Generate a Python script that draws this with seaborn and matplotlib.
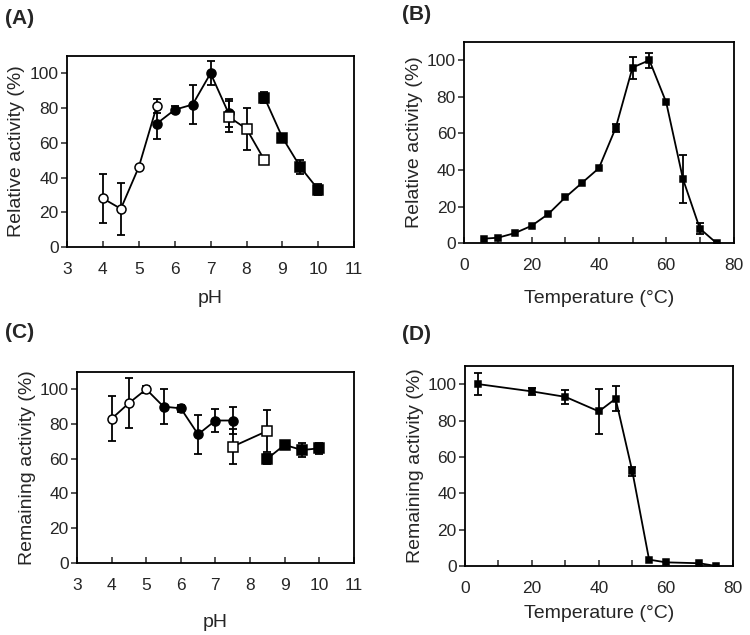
"""Enzyme pH / temperature profiles, four panels (A)-(D)."""

import numpy as np
import matplotlib
matplotlib.use("Agg")
import matplotlib.pyplot as plt
from matplotlib.ticker import MultipleLocator
import seaborn as sns

# ---- (A) pH optimum -------------------------------------------------------
a_oc_ph = [4.0, 4.5, 5.0, 5.5]
a_oc_val = [28, 22, 46, 81]
a_oc_err = [14, 15, 0, 4]

a_fc_ph = [5.5, 6.0, 6.5, 7.0, 7.5]
a_fc_val = [71, 79, 82, 100, 77]
a_fc_err = [9, 2, 11, 7, 8]

a_os_ph = [7.5, 8.0, 8.5]
a_os_val = [75, 68, 50]
a_os_err = [9, 12, 0]

a_fs_ph = [8.5, 9.0, 9.5, 10.0]
a_fs_val = [86, 63, 46, 33]
a_fs_err = [3, 2, 4, 3]

# ---- (B) temperature optimum ----------------------------------------------
b_temp = [6, 10, 15, 20, 25, 30, 35, 40, 45, 50, 55, 60, 65, 70, 75]
b_val = [2.5, 3, 5.5, 9.5, 16, 25, 33, 41, 63, 96, 100, 77, 35, 8, 0]
b_err = [0, 0, 0, 0, 0, 0, 0, 0, 2, 6, 4, 0, 13, 3, 0]

# ---- (C) pH stability -----------------------------------------------------
c_oc_ph = [4.0, 4.5, 5.0]
c_oc_val = [83, 92, 100]
c_oc_err = [13, 14.5, 2]

c_fc_ph = [5.0, 5.5, 6.0, 6.5, 7.0, 7.5]
c_fc_val = [100, 90, 89, 74, 82, 82]
c_fc_err = [0, 10, 2, 11, 6.5, 8]

c_os_ph = [7.5, 8.5]
c_os_val = [67, 76]
c_os_err = [10, 12]

c_fs_ph = [8.5, 9.0, 9.5, 10.0]
c_fs_val = [60, 68, 65, 66]
c_fs_err = [3, 1.5, 4, 3]

# ---- (D) thermal stability ------------------------------------------------
d_temp = [4, 20, 30, 40, 45, 50, 55, 60, 70, 75]
d_val = [100, 96, 93, 85, 92, 52, 3.5, 2, 1.5, 0]
d_err = [6, 2, 4, 12.5, 7, 2.5, 0, 0, 0, 0]


def draw_series(ax, x, y, err, marker, filled, ms):
    """Line with markers via seaborn, error bars underneath."""
    x = np.asarray(x, dtype=float)
    y = np.asarray(y, dtype=float)
    err = np.asarray(err, dtype=float)
    keep = err > 0
    if keep.any():
        ax.errorbar(x[keep], y[keep], yerr=err[keep], fmt="none",
                    ecolor="black", elinewidth=1.3, capsize=3.2,
                    capthick=1.3, zorder=2)
    sns.lineplot(x=x, y=y, ax=ax, color="black", linewidth=1.3,
                 marker=marker, markersize=ms,
                 markerfacecolor="black" if filled else "white",
                 markeredgecolor="black", markeredgewidth=1.1,
                 sort=False, estimator=None, zorder=3)


def style_axes(ax, xlim, xmajor, xminor, xlabel, ylabel, xlabelpad):
    ax.set_xlim(*xlim)
    ax.set_ylim(0, 110)
    ax.xaxis.set_major_locator(MultipleLocator(xmajor))
    if xminor:
        ax.xaxis.set_minor_locator(MultipleLocator(xminor))
    ax.yaxis.set_major_locator(MultipleLocator(20))
    ax.tick_params(axis="x", which="both", direction="in", length=4,
                   width=1.1, labelsize=12.5, pad=11, top=False)
    ax.tick_params(axis="y", direction="out", length=4, width=1.1,
                   labelsize=12.5, pad=2, right=False)
    for sp in ax.spines.values():
        sp.set_visible(True)
        sp.set_linewidth(1.3)
        sp.set_color("black")
    ax.set_xlabel(xlabel, fontsize=14, labelpad=xlabelpad)
    ax.set_ylabel(ylabel, fontsize=14, labelpad=3)


sns.set_style("ticks")
plt.rcParams["font.family"] = ["Liberation Sans", "DejaVu Sans"]

fig = plt.figure(figsize=(7.5, 6.35), dpi=100)
ax_a = fig.add_axes([0.0893, 0.611, 0.383, 0.301])
ax_b = fig.add_axes([0.619, 0.617, 0.359, 0.317])
ax_c = fig.add_axes([0.1027, 0.1134, 0.369, 0.301])
ax_d = fig.add_axes([0.620, 0.1087, 0.357, 0.315])

# (A)
draw_series(ax_a, a_oc_ph, a_oc_val, a_oc_err, "o", False, 6.5)
draw_series(ax_a, a_fc_ph, a_fc_val, a_fc_err, "o", True, 6.5)
draw_series(ax_a, a_os_ph, a_os_val, a_os_err, "s", False, 6.5)
draw_series(ax_a, a_fs_ph, a_fs_val, a_fs_err, "s", True, 6.5)
style_axes(ax_a, (3, 11), 1, None, "pH", "Relative activity (%)", 9)

# (B)
draw_series(ax_b, b_temp, b_val, b_err, "s", True, 4.5)
style_axes(ax_b, (0, 80), 20, 10, "Temperature (\u00b0C)",
           "Relative activity (%)", 12)

# (C)
draw_series(ax_c, c_oc_ph, c_oc_val, c_oc_err, "o", False, 6.5)
draw_series(ax_c, c_fc_ph[1:], c_fc_val[1:], c_fc_err[1:], "o", True, 6.5)
sns.lineplot(x=c_fc_ph[:2], y=c_fc_val[:2], ax=ax_c, color="black",
             linewidth=1.3, zorder=1)
draw_series(ax_c, c_os_ph, c_os_val, c_os_err, "s", False, 6.5)
draw_series(ax_c, c_fs_ph, c_fs_val, c_fs_err, "s", True, 6.5)
style_axes(ax_c, (3, 11), 1, None, "pH", "Remaining activity (%)", 15)

# (D)
draw_series(ax_d, d_temp, d_val, d_err, "s", True, 4.5)
style_axes(ax_d, (0, 80), 20, 10, "Temperature (\u00b0C)",
           "Remaining activity (%)", 6)

for ax, lab, (x, y) in [(ax_a, "(A)", (5, 18)), (ax_b, "(B)", (402, 15)),
                        (ax_c, "(C)", (5, 333)), (ax_d, "(D)", (402, 335))]:
    fig.text(x / 750, 1 - y / 635, lab, fontsize=15, fontweight="bold",
             ha="left", va="center")
    leg = ax.get_legend()
    if leg is not None:
        leg.remove()

fig.savefig("out.png", dpi=100)
